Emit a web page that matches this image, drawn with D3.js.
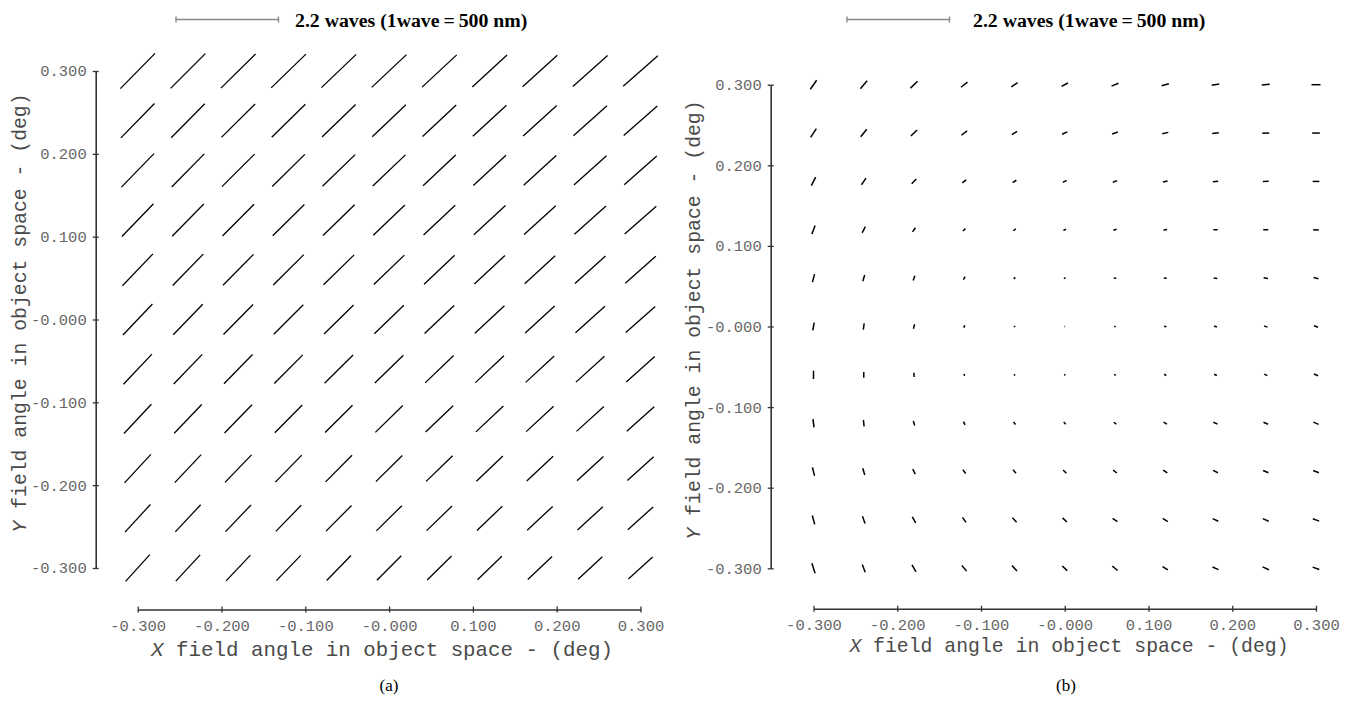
<!DOCTYPE html>
<html>
<head>
<meta charset="utf-8">
<script src="https://cdn.jsdelivr.net/npm/d3@7"></script>
<style>
  html, body { margin: 0; padding: 0; background: #fff; }
  svg { display: block; }
</style>
</head>
<body>
<svg id="chart" width="1355" height="701"></svg>
<script>
// Field sampling grid (deg) and axis ticks
const fieldX = [-0.30, -0.24, -0.18, -0.12, -0.06, 0.00, 0.06, 0.12, 0.18, 0.24, 0.30];
const fieldY = [0.30, 0.24, 0.18, 0.12, 0.06, 0.00, -0.06, -0.12, -0.18, -0.24, -0.30]; // top row first
const axisTicks = [-0.3, -0.2, -0.1, 0.0, 0.1, 0.2, 0.3];
const tickLabels = ["-0.300", "-0.200", "-0.100", "-0.000", "0.100", "0.200", "0.300"];
const legendWaves = 2.2;
const legendText = "2.2 waves (1wave\u2009=\u2009500 nm)";
const captions = ["(a)", "(b)"];

// Panel (a): astigmatism magnitude (waves) per field point, rows top to bottom
const magA = [
  [1.061, 1.054, 1.047, 1.040, 1.033, 1.026, 1.018, 1.011, 1.004, 0.997, 0.990],
  [1.032, 1.025, 1.018, 1.011, 1.004, 0.997, 0.989, 0.982, 0.975, 0.968, 0.961],
  [1.003, 0.996, 0.989, 0.982, 0.975, 0.968, 0.960, 0.953, 0.946, 0.939, 0.932],
  [0.976, 0.969, 0.962, 0.955, 0.948, 0.941, 0.933, 0.926, 0.919, 0.912, 0.905],
  [0.946, 0.939, 0.932, 0.924, 0.917, 0.910, 0.903, 0.896, 0.888, 0.881, 0.874],
  [0.918, 0.911, 0.904, 0.896, 0.889, 0.882, 0.875, 0.868, 0.860, 0.853, 0.846],
  [0.891, 0.884, 0.877, 0.869, 0.862, 0.855, 0.848, 0.841, 0.833, 0.826, 0.819],
  [0.861, 0.854, 0.847, 0.839, 0.832, 0.825, 0.818, 0.811, 0.803, 0.796, 0.789],
  [0.833, 0.826, 0.819, 0.811, 0.804, 0.797, 0.790, 0.783, 0.775, 0.768, 0.761],
  [0.805, 0.798, 0.790, 0.783, 0.776, 0.769, 0.761, 0.754, 0.747, 0.739, 0.732],
  [0.776, 0.769, 0.761, 0.754, 0.747, 0.740, 0.732, 0.725, 0.718, 0.710, 0.703]
];
// Panel (a): orientation (deg, counter-clockwise from +X)
const angA = [
  [45.4, 45.0, 44.6, 44.1, 43.7, 43.3, 42.9, 42.5, 42.0, 41.6, 41.2],
  [45.7, 45.3, 44.8, 44.4, 44.0, 43.6, 43.1, 42.7, 42.3, 41.8, 41.4],
  [45.8, 45.4, 44.9, 44.5, 44.0, 43.6, 43.2, 42.7, 42.3, 41.8, 41.4],
  [46.0, 45.5, 45.1, 44.6, 44.2, 43.7, 43.2, 42.8, 42.3, 41.9, 41.4],
  [46.2, 45.7, 45.3, 44.8, 44.3, 43.9, 43.4, 42.9, 42.4, 42.0, 41.5],
  [46.4, 45.9, 45.4, 45.0, 44.5, 44.0, 43.5, 43.0, 42.6, 42.1, 41.6],
  [46.7, 46.2, 45.7, 45.2, 44.7, 44.2, 43.7, 43.2, 42.7, 42.2, 41.7],
  [46.9, 46.4, 45.9, 45.4, 44.9, 44.4, 43.8, 43.3, 42.8, 42.3, 41.8],
  [47.2, 46.7, 46.1, 45.6, 45.1, 44.6, 44.0, 43.5, 43.0, 42.4, 41.9],
  [47.4, 46.9, 46.3, 45.8, 45.2, 44.7, 44.1, 43.6, 43.0, 42.5, 41.9],
  [47.8, 47.2, 46.7, 46.1, 45.6, 45.0, 44.4, 43.9, 43.3, 42.8, 42.2]
];

// Panel (b): residual astigmatism magnitude (waves)
const magB = [
  [0.236, 0.225, 0.210, 0.176, 0.163, 0.155, 0.161, 0.161, 0.163, 0.172, 0.193],
  [0.225, 0.206, 0.185, 0.155, 0.133, 0.124, 0.129, 0.133, 0.142, 0.150, 0.165],
  [0.206, 0.172, 0.142, 0.107, 0.094, 0.092, 0.099, 0.103, 0.114, 0.124, 0.142],
  [0.193, 0.150, 0.107, 0.077, 0.067, 0.064, 0.071, 0.077, 0.092, 0.107, 0.122],
  [0.176, 0.142, 0.107, 0.073, 0.047, 0.043, 0.054, 0.064, 0.077, 0.094, 0.107],
  [0.172, 0.133, 0.097, 0.056, 0.032, 0.013, 0.032, 0.049, 0.064, 0.077, 0.094],
  [0.178, 0.127, 0.090, 0.045, 0.032, 0.032, 0.043, 0.054, 0.064, 0.075, 0.097],
  [0.180, 0.137, 0.105, 0.077, 0.069, 0.064, 0.071, 0.084, 0.099, 0.109, 0.124],
  [0.185, 0.150, 0.120, 0.103, 0.099, 0.099, 0.103, 0.107, 0.116, 0.124, 0.131],
  [0.197, 0.167, 0.146, 0.131, 0.129, 0.127, 0.124, 0.127, 0.133, 0.139, 0.144],
  [0.225, 0.178, 0.172, 0.159, 0.157, 0.148, 0.148, 0.135, 0.142, 0.150, 0.150]
];
// Panel (b): orientation (deg)
const angB = [
  [55, 50, 44, 38, 33, 28, 22, 16, 10, 5, 0],
  [57, 51, 44, 38, 32, 25, 19, 13, 7, 3, 0],
  [63, 55, 46, 38, 32, 27, 20, 12, 5, 1, 0],
  [69, 63, 55, 47, 38, 28, 18, 9, 2, -1, -3],
  [75, 74, 70, 60, 45, 30, 10, 0, -8, -12, -15],
  [80, 82, 75, 65, 50, 0, -20, -15, -20, -20, -20],
  [90, 90, -85, -75, -60, -45, -30, -30, -25, -25, -22],
  [-83, -84, -74, -63, -55, -49, -37, -31, -25, -23, -23],
  [-76, -73, -65, -54, -48, -45, -37, -34, -25, -23, -22],
  [-75, -71, -60, -55, -47, -43, -35, -33, -25, -24, -20],
  [-72, -69, -60, -50, -47, -43, -39, -32, -24, -25, -19]
];

const svg = d3.select("#chart");
svg.append("rect").attr("width", 1355).attr("height", 701).attr("fill", "#fff");

const panels = [
  { x0: 137.7, x1: 640.5, y0: 568.0, y1: 71.0, axX: 95.7, axY: 609.5,
    yTitleX: 19, yTitleY: 313, xTitleX: 382, xTitleY: 656, xTitleSize: 20.8, yTitleSize: 19.8,
    legX: 176, legY: 19.5, legTextX: 295, capX: 389, capY: 691, markWidth: 1.3,
    mag: magA, ang: angA, caption: captions[0] },
  { x0: 813.5, x1: 1316.0, y0: 568.3, y1: 84.7, axX: 770.7, axY: 608.7,
    yTitleX: 693, yTitleY: 320, xTitleX: 1069, xTitleY: 652, xTitleSize: 19.8, yTitleSize: 19.8,
    legX: 847, legY: 19.5, legTextX: 973, capX: 1066, capY: 691, markWidth: 1.5,
    mag: magB, ang: angB, caption: captions[1] }
];

const monoFont = "'Liberation Mono', 'Courier New', monospace";
const serifFont = "'Liberation Serif', 'Times New Roman', serif";

panels.forEach(cfg => {
  const g = svg.append("g");
  const x = d3.scaleLinear().domain([-0.3, 0.3]).range([cfg.x0, cfg.x1]);
  const y = d3.scaleLinear().domain([-0.3, 0.3]).range([cfg.y0, cfg.y1]);
  // length of a segment in pixels for a given number of waves
  const len = d3.scaleLinear().domain([0, legendWaves]).range([0, 102.5]);

  // aberration segments centred on each field point
  const marks = [];
  fieldY.forEach((fy, i) => fieldX.forEach((fx, j) => {
    marks.push({ fx, fy, m: cfg.mag[i][j], a: cfg.ang[i][j] });
  }));
  const half = d => len(d.m) / 2;
  const rad = d => d.a * Math.PI / 180;
  g.append("g").selectAll("line").data(marks).join("line")
    .attr("x1", d => x(d.fx) - half(d) * Math.cos(rad(d)))
    .attr("y1", d => y(d.fy) + half(d) * Math.sin(rad(d)))
    .attr("x2", d => x(d.fx) + half(d) * Math.cos(rad(d)))
    .attr("y2", d => y(d.fy) - half(d) * Math.sin(rad(d)))
    .attr("stroke", "#000")
    .attr("stroke-width", cfg.markWidth);

  // axes
  const yAxis = d3.axisLeft(y).tickValues(axisTicks)
    .tickFormat((d, i) => tickLabels[i]).tickSizeInner(3).tickSizeOuter(0).tickPadding(6);
  const xAxis = d3.axisBottom(x).tickValues(axisTicks)
    .tickFormat((d, i) => tickLabels[i]).tickSizeInner(3).tickSizeOuter(0).tickPadding(7);

  const ya = g.append("g").attr("transform", `translate(${cfg.axX},0)`).call(yAxis);
  const xa = g.append("g").attr("transform", `translate(0,${cfg.axY})`).call(xAxis);
  [ya, xa].forEach(a => {
    a.attr("font-family", monoFont).attr("font-size", 15.5);
    a.select(".domain").attr("stroke", "#333").attr("stroke-width", 1.6);
    a.selectAll(".tick line").attr("stroke", "#333").attr("stroke-width", 1.3);
    a.selectAll(".tick text").attr("fill", "#666");
  });
  ya.selectAll(".tick line").attr("x1", 3);
  xa.selectAll(".tick line").attr("y1", -3);

  // axis titles
  const xt = g.append("text")
    .attr("x", cfg.xTitleX).attr("y", cfg.xTitleY)
    .attr("text-anchor", "middle")
    .attr("font-family", monoFont).attr("font-size", cfg.xTitleSize).attr("fill", "#4a4a4a");
  xt.append("tspan").attr("font-style", "italic").text("X");
  xt.append("tspan").text(" field angle in object space - (deg)");

  const yt = g.append("text")
    .attr("transform", `translate(${cfg.yTitleX},${cfg.yTitleY}) rotate(-90)`)
    .attr("text-anchor", "middle").attr("dy", "0.35em")
    .attr("font-family", monoFont).attr("font-size", cfg.yTitleSize).attr("fill", "#4a4a4a");
  yt.append("tspan").attr("font-style", "italic").text("Y");
  yt.append("tspan").text(" field angle in object space - (deg)");

  // scale bar legend
  const barEnd = cfg.legX + len(legendWaves);
  const leg = g.append("g").attr("stroke", "#888").attr("stroke-width", 1.4);
  leg.append("line").attr("x1", cfg.legX).attr("x2", barEnd)
    .attr("y1", cfg.legY).attr("y2", cfg.legY);
  [cfg.legX, barEnd].forEach(px => {
    leg.append("line").attr("x1", px).attr("x2", px)
      .attr("y1", cfg.legY - 3).attr("y2", cfg.legY + 3);
  });
  g.append("text").attr("x", cfg.legTextX).attr("y", cfg.legY + 7)
    .attr("font-family", serifFont).attr("font-weight", "bold")
    .attr("font-size", 19.8).attr("fill", "#000").text(legendText);

  // panel caption
  g.append("text").attr("x", cfg.capX).attr("y", cfg.capY)
    .attr("text-anchor", "middle").attr("font-family", serifFont)
    .attr("font-size", 17).attr("fill", "#000").text(cfg.caption);
});
</script>
</body>
</html>
